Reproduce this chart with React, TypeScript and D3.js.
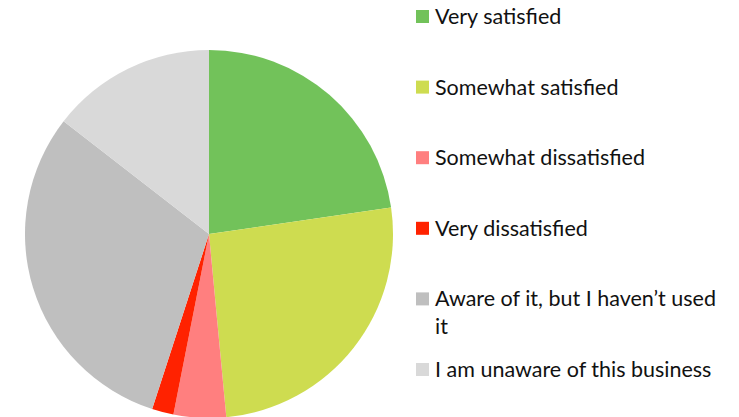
import React from "react";
import * as d3 from "d3";

const categories = [
  "Very satisfied",
  "Somewhat satisfied",
  "Somewhat dissatisfied",
  "Very dissatisfied",
  "Aware of it, but I haven’t used it",
  "I am unaware of this business",
];
const values = [22.7, 25.8, 4.6, 1.9, 30.5, 14.5];
const colors = ["#72C25A", "#CEDC50", "#FF7F7F", "#FF2200", "#BFBFBF", "#D9D9D9"];
const legendLines = [
  ["Very satisfied"],
  ["Somewhat satisfied"],
  ["Somewhat dissatisfied"],
  ["Very dissatisfied"],
  ["Aware of it, but I haven’t used", "it"],
  ["I am unaware of this business"],
];

export default function App() {
  const W = 739, H = 417;
  const cx = 209, cy = 234, r = 184;
  const pie = d3.pie<number>().sort(null).value((d) => d);
  const arcs = pie(values);
  const arc = d3.arc<d3.PieArcDatum<number>>().innerRadius(0).outerRadius(r);
  const legendY = d3.scaleLinear().domain([0, 5]).range([16.5, 369.5]);

  return (
    <svg width={W} height={H} style={{ position: "absolute", left: 0, top: 0 }}>
      <rect width={W} height={H} fill="#fff" />
      <g transform={`translate(${cx},${cy})`}>
        {arcs.map((a, i) => (
          <path key={categories[i]} d={arc(a) || ""} fill={colors[i]} />
        ))}
      </g>
      <g fontFamily="Lato, 'Open Sans', sans-serif" fontSize={21.5} fill="#111">
        {categories.map((c, i) => {
          const y = legendY(i);
          return (
            <g key={c}>
              <rect x={416} y={y - 6.5} width={13} height={13} fill={colors[i]} />
              {legendLines[i].map((ln, j) => (
                <text key={j} x={435} y={y + 7.5 + j * 28}>
                  {ln}
                </text>
              ))}
            </g>
          );
        })}
      </g>
    </svg>
  );
}
